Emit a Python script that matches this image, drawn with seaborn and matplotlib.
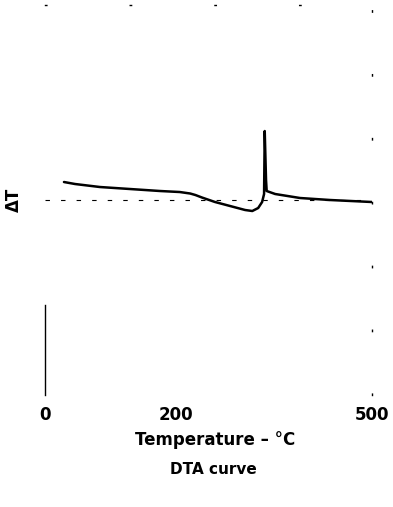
import matplotlib
matplotlib.use("Agg")
import matplotlib.pyplot as plt
import seaborn as sns

# DTA trace (temperature in C, delta T in arbitrary units)
temp = [29, 46, 84, 130, 176, 206, 222, 230, 240, 260, 283, 306, 317, 326,
        332, 335, 336, 338, 339, 352, 390, 436, 500]
delta_t = [18, 16, 13, 11, 9, 8, 6.5, 5, 2.5, -2, -6, -10, -11, -8,
           -2, 6, 69, 20, 9, 6, 2, 0, -2]
tick_vals = [0, 200, 500]
tick_labels = ["0", "200", "500"]

sns.set_style("white")
plt.rcParams['font.family'] = ['DejaVu Sans']
plt.rcParams['text.color'] = 'black'
plt.rcParams['xtick.color'] = 'black'
plt.rcParams['axes.labelcolor'] = 'black'
plt.rcParams['axes.edgecolor'] = 'black'

fig = plt.figure(figsize=(3.93, 5.07), dpi=100)
ax = fig.add_axes([0.1145, 0.221, 0.832, 0.769])

sns.lineplot(x=temp, y=delta_t, ax=ax, color="black", linewidth=1.8,
             sort=False, estimator=None)
ax.axhline(0, xmin=0, xmax=1, color="black", linewidth=0.8,
           linestyle=(0, (4, 10)), zorder=1)

ax.set_xlim(0, 500)
ax.set_ylim(-195, 195)
ax.set_xticks(tick_vals)
ax.set_xticklabels(tick_labels, fontsize=12, fontweight="bold")
ax.set_yticks([])
ax.tick_params(axis="x", length=0, pad=8)

ax.spines["bottom"].set_visible(False)
ax.spines["left"].set_bounds(-195, -105)
ax.spines["left"].set_linewidth(1.0)
ax.spines["right"].set_linestyle((0, (1, 45)))
ax.spines["right"].set_linewidth(1.0)
ax.spines["top"].set_linestyle((0, (1, 60)))
ax.spines["top"].set_linewidth(1.0)

ax.set_ylabel("ΔT", fontsize=12, fontweight="bold", labelpad=16)
fig.text(0.547, 0.132, "Temperature – °C", ha="center", va="center",
         fontsize=12, fontweight="bold")
fig.text(0.542, 0.073, "DTA curve", ha="center", va="center",
         fontsize=11, fontweight="bold")

fig.savefig("out.png", dpi=100, facecolor="white")
